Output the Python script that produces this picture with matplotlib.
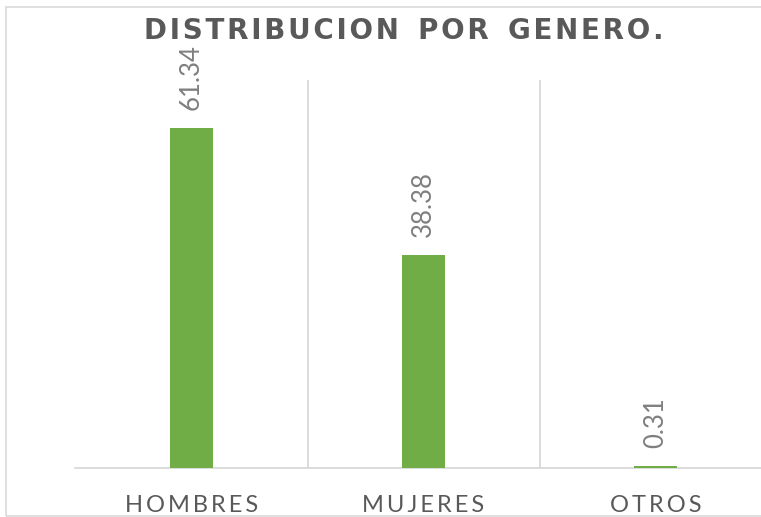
import matplotlib
matplotlib.use("Agg")
import matplotlib.pyplot as plt
from matplotlib.patches import Rectangle

categories = ["HOMBRES", "MUJERES", "OTROS"]
values = [61.34, 38.38, 0.31]
value_labels = ["61.34", "38.38", "0.31"]
title = "DISTRIBUCION POR GENERO."

W, H = 761, 517
fig = plt.figure(figsize=(W / 100, H / 100), dpi=100)

def spaced(s, sep="\u2009", wsep=" "):
    return wsep.join(sep.join(w) for w in s.split(" "))

# outer chart border
fig.patches.append(Rectangle((6 / W, 1 - 516 / H), 1.2, (516 - 7) / H,
                             transform=fig.transFigure, fill=False,
                             edgecolor="#D9D9D9", linewidth=1.2))

left, right = 75.5, 771.5
top, base = 80, 467.5
ax = fig.add_axes([left / W, 1 - base / H, (right - left) / W, (base - top) / H])

x = list(range(len(categories)))
ax.bar(x, values, width=0.185, color="#70AD47", zorder=3)
ax.set_xlim(-0.5, 2.5)
ax.set_ylim(0, 70)

for s in ["top", "right", "left"]:
    ax.spines[s].set_visible(False)
ax.spines["bottom"].set_color("#D9D9D9")
ax.spines["bottom"].set_linewidth(1.3)
ax.set_yticks([])
ax.set_xticks(x)
ax.set_xticklabels([spaced(c) for c in categories], family=["Lato", "DejaVu Sans"],
                   fontsize=17, color="#595959")
ax.tick_params(axis="x", length=0, pad=20)
for b in [-0.5, 0.5, 1.5, 2.5]:
    ax.axvline(b, color="#D9D9D9", linewidth=1.3, zorder=1)

for xi, v, lab in zip(x, values, value_labels):
    ax.annotate(lab, (xi, v), xytext=(0, 13), textcoords="offset points",
                rotation=90, ha="center", va="bottom", fontsize=18.5,
                color="#7F7F7F", family=["Lato", "DejaVu Sans"])

fig.text(404 / W, 1 - 31 / H, spaced(title, "\u200A", "  "), ha="center", va="center",
         fontsize=20, fontweight="bold", color="#595959",
         family=["DejaVu Sans"])

fig.savefig("out.png", dpi=100)
